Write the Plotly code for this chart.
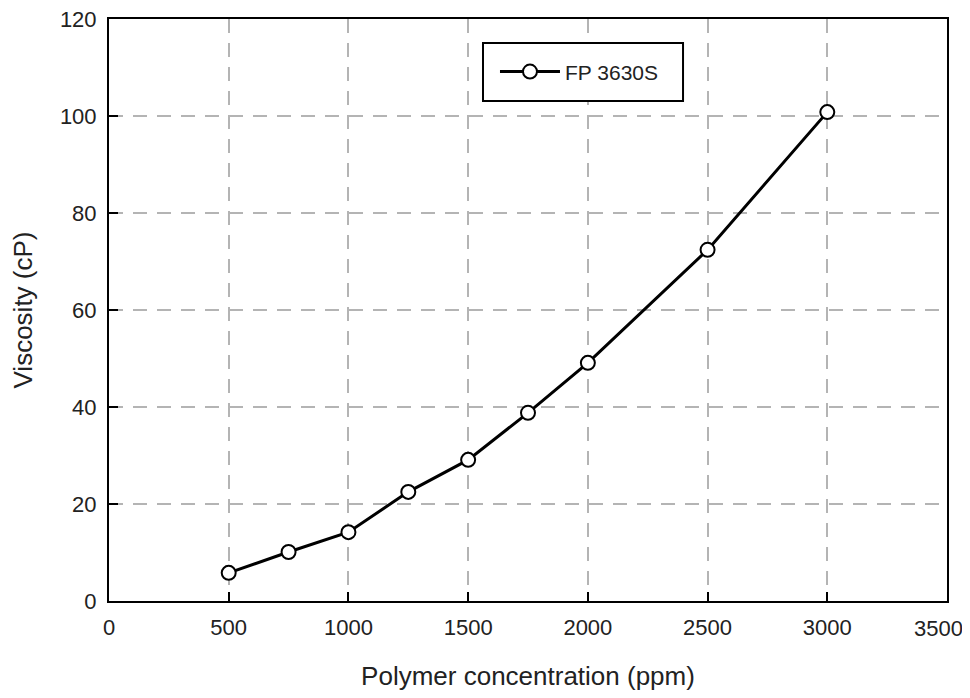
import plotly.graph_objects as go

concentration = [500, 750, 1000, 1250, 1500, 1750, 2000, 2500, 3000]
viscosity = [5.8, 10.1, 14.2, 22.5, 29.1, 38.8, 49.1, 72.4, 100.8]
series_name = "FP 3630S"
x_tick_values = [0, 500, 1000, 1500, 2000, 2500, 3000, 3500]
x_tick_labels = ["0", "500", "1000", "1500", "2000", "2500", "3000", "3500"]

fig = go.Figure()
fig.add_trace(go.Scatter(
    x=concentration, y=viscosity, mode="lines+markers", name=series_name,
    line=dict(color="black", width=3),
    marker=dict(symbol="circle", size=14, color="white", line=dict(color="black", width=2)),
))

font = "Liberation Sans, Arial, sans-serif"
axis_common = dict(
    showline=True, linecolor="black", linewidth=2, mirror=True,
    ticks="inside", ticklen=9, tickwidth=2, tickcolor="black",
    showgrid=True, gridcolor="#b4b4b4", gridwidth=2, griddash="14px,10px",
    zeroline=False, automargin=False, ticklabeloverflow="allow",
    tickfont=dict(family=font, size=22, color="#222"),
    title_font=dict(family=font, size=26, color="#222"),
)
# last tick label drawn as an annotation nudged left so it fits inside the window
fig.update_xaxes(range=[0, 3500], tickmode="array", tickvals=x_tick_values,
                 ticktext=x_tick_labels[:-1] + [""],
                 title_text="Polymer concentration (ppm)",
                 title_standoff=27, ticklabelstandoff=6, **axis_common)
fig.update_yaxes(range=[0, 120], dtick=20, title_text="Viscosity (cP)",
                 title_standoff=20, ticklabelstandoff=6, **axis_common)

fig.add_annotation(x=x_tick_values[-1], y=0, xref="x", yref="paper",
                   text=x_tick_labels[-1], showarrow=False,
                   xanchor="center", yanchor="middle", xshift=-9, yshift=-27,
                   font=dict(family=font, size=22, color="#222"))

# legend frame (paper coordinates)
fig.add_shape(type="rect", xref="paper", yref="paper",
              x0=0.4463, x1=0.685, y0=0.859, y1=0.9588,
              line=dict(color="black", width=2), fillcolor="white", layer="above")

# page body has an 8px margin, so the figure is 8px smaller and margins shifted
fig.update_layout(
    width=962, height=690,
    margin=dict(l=101, r=23, t=11, b=97),
    plot_bgcolor="white", paper_bgcolor="white",
    showlegend=True,
    legend=dict(x=0.4606, y=0.909, xanchor="left", yanchor="middle",
                borderwidth=0, bgcolor="rgba(0,0,0,0)", itemwidth=60,
                font=dict(family=font, size=21, color="#222")),
)
fig.write_html("out.html")
